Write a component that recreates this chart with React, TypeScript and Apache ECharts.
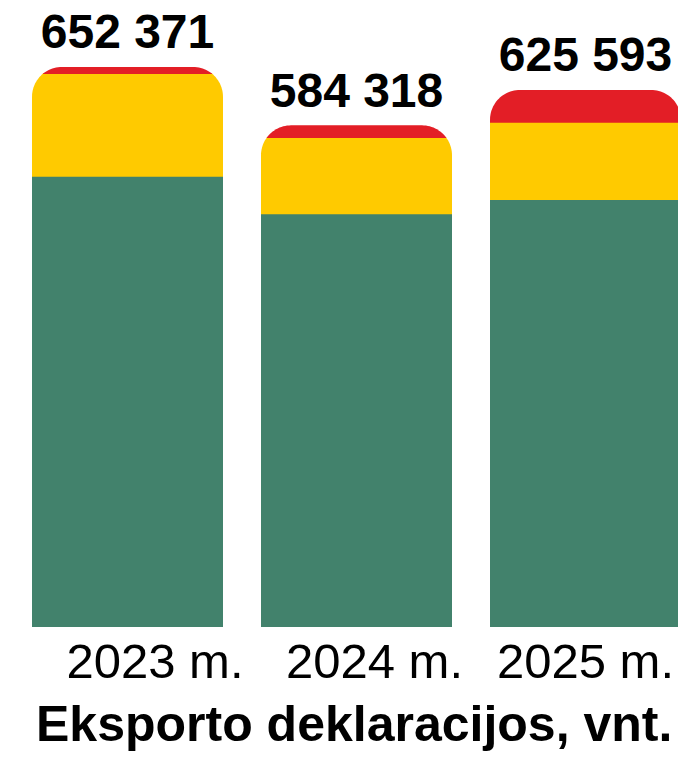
import React, { useEffect, useRef } from "react";
import * as echarts from "echarts";

const categories = ["2023 m.", "2024 m.", "2025 m."];
const greenValues = [524400, 480600, 497200];
const yellowValues = [119700, 88900, 90100];
const redValues = [8271, 14818, 38293];
const titleText = "Eksporto deklaracijos, vnt.";

const FONT = "'Liberation Sans', Arial, sans-serif";
const GREEN = "#42826c";
const YELLOW = "#ffca00";
const RED = "#e31e26";

function fmt(n: number): string {
  return String(Math.round(n)).replace(/\B(?=(\d{3})+(?!\d))/g, " ");
}

function clipY(pts: number[][], c: number, keepBelow: boolean): number[][] {
  const out: number[][] = [];
  for (let k = 0; k < pts.length; k++) {
    const p = pts[k];
    const q = pts[(k + 1) % pts.length];
    const pin = keepBelow ? p[1] >= c : p[1] <= c;
    const qin = keepBelow ? q[1] >= c : q[1] <= c;
    if (pin) out.push(p);
    if (pin !== qin) {
      const t = (c - p[1]) / (q[1] - p[1]);
      out.push([p[0] + t * (q[0] - p[0]), c]);
    }
  }
  return out;
}

export default function App() {
  const ref = useRef<HTMLDivElement>(null);
  useEffect(() => {
    if (!ref.current) return;
    const chart = echarts.init(ref.current, null, { renderer: "svg" });
    const data = categories.map((_, i) => [i, greenValues[i], yellowValues[i], redValues[i]]);
    const padLeft = [55, 36, 0];

    const renderItem = (params: any, api: any) => {
      const i = api.value(0);
      const g = api.value(1);
      const yv = api.value(2);
      const rv = api.value(3);
      const base = api.coord([i, 0]);
      const cx = base[0];
      const B = base[1];
      const bw = (api.size([1, 0])[0] * 191) / 229;
      const L = cx - bw / 2;
      const R = cx + bw / 2;
      const yG = api.coord([i, g])[1];
      const yY = api.coord([i, g + yv])[1];
      const T = api.coord([i, g + yv + rv])[1];
      const rad = Math.min(30, bw / 2, B - T);
      const outline: number[][] = [];
      outline.push([L, B]);
      const N = 24;
      for (let k = 0; k <= N; k++) {
        const a = Math.PI + (k / N) * (Math.PI / 2);
        outline.push([L + rad + rad * Math.cos(a), T + rad + rad * Math.sin(a)]);
      }
      for (let k = 0; k <= N; k++) {
        const a = 1.5 * Math.PI + (k / N) * (Math.PI / 2);
        outline.push([R - rad + rad * Math.cos(a), T + rad + rad * Math.sin(a)]);
      }
      outline.push([R, B]);
      const segs: [number, number, string][] = [
        [yG - 1, B, GREEN],
        [yY - 1, yG, YELLOW],
        [T, yY, RED],
      ];
      const children: any[] = segs.map(([top, bot, color]) => {
        let pts = clipY(outline, top, true);
        pts = clipY(pts, bot, false);
        return {
          type: "polygon",
          shape: { points: pts },
          style: { fill: color, stroke: null },
        };
      });
      children.push({
        type: "text",
        x: cx,
        y: T - 11,
        style: {
          text: fmt(g + yv + rv),
          fontSize: 48,
          fontWeight: "bold",
          fontFamily: FONT,
          fill: "#000",
          align: "center",
          verticalAlign: "bottom",
        },
      });
      return { type: "group", children };
    };

    chart.setOption({
      animation: false,
      backgroundColor: "#ffffff",
      title: {
        text: titleText,
        left: 36,
        top: 699,
        padding: 0,
        textStyle: { fontSize: 50, fontWeight: "bold", fontFamily: FONT, color: "#000" },
      },
      grid: { left: 13, right: 0, top: 26, bottom: 131, containLabel: false },
      xAxis: {
        type: "category",
        data: categories.map((c, i) => ({
          value: c,
          textStyle: { padding: [0, 0, 0, padLeft[i]] },
        })),
        axisLine: { show: false },
        axisTick: { show: false },
        axisLabel: { fontSize: 49, fontFamily: FONT, color: "#000", margin: 9, interval: 0 },
        splitLine: { show: false },
      },
      yAxis: { type: "value", min: 0, max: 700000, show: false, splitLine: { show: false } },
      series: [
        {
          type: "custom",
          renderItem,
          clip: false,
          encode: { x: 0, y: [1, 2, 3] },
          data,
        },
      ],
    });
    return () => chart.dispose();
  }, []);
  return (
    <div style={{ position: "fixed", left: 0, top: 0, width: 678, height: 758, overflow: "hidden", background: "#fff" }}>
      <div ref={ref} style={{ position: "absolute", left: 0, top: 0, width: 700, height: 758 }} />
    </div>
  );
}
